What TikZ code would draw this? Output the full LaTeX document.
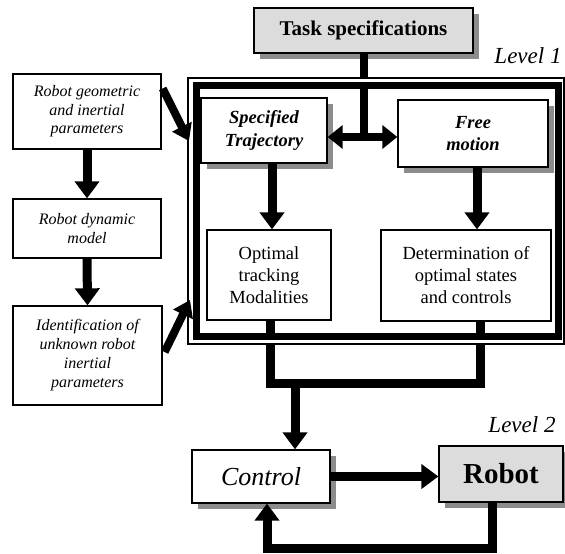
\documentclass[tikz,border=0pt]{standalone}
\usepackage{fontspec}
\setmainfont{Liberation Serif}
\usetikzlibrary{arrows.meta,shadows,calc}
\definecolor{boxgray}{HTML}{DCDCDC}
\definecolor{shadowgray}{HTML}{8C8C8C}
\begin{document}
\begin{tikzpicture}[x=1pt,y=-1pt,
  box/.style={draw=black,line width=1.3pt,fill=white,align=center,inner sep=0pt},
  shad/.style={drop shadow={shadow xshift=6pt,shadow yshift=-6pt,fill=shadowgray,opacity=1}},
  conn/.style={line width=9pt,draw=black},
  arr/.style={conn,-{Triangle[width=24pt,length=17pt]}},
  darr/.style={line width=8pt,draw=black,{Triangle[width=23pt,length=15pt]}-{Triangle[width=23pt,length=15pt]}},
  diag/.style={line width=8pt,draw=black,-{Triangle[width=21pt,length=16pt]}},
  lefttxt/.style={font=\fontsize{16}{18.5}\selectfont\itshape},
  midtxt/.style={font=\fontsize{18.5}{22}\selectfont},
  bitxt/.style={font=\fontsize{18.5}{22.5}\selectfont\bfseries\itshape},
  lvl/.style={font=\fontsize{23}{26}\selectfont\itshape}]
\useasboundingbox (0,0) rectangle (565,554);

% nodes defining geometry
\node[box,shad,fill=boxgray,minimum width=219pt,minimum height=45pt,font=\fontsize{21}{25}\selectfont\bfseries] (task) at (363.5,30.5) {Task specifications};

% connectors crossing the frame (drawn first)
\coordinate (st) at (364,137);
\draw[conn,line width=8pt] (task.south -| st) -- (st);

\node[box,minimum width=124pt,minimum height=90pt,draw=none,fill=none] (opt0) at (269,275) {};
\node[box,minimum width=170pt,minimum height=91pt,draw=none,fill=none] (det0) at (466,275.5) {};
\coordinate (m) at (295,383);
\draw[conn,line join=miter] ([xshift=1pt]opt0.south) -- ++(0,63) -| ([xshift=14pt]det0.south);

% double frame
\draw[black,line width=1.3pt] (188,78) rectangle (564,344);
\draw[white,line width=3pt] (190.8,80.8) rectangle (561.2,341.2);
\draw[black,line width=7pt] (196,85.5) rectangle (558.5,336.5);

% boxes
\node[box,shad,minimum width=126pt,minimum height=65pt,bitxt] (spec) at (264,130.5) {Specified\\Trajectory};
\node[box,shad,minimum width=150pt,minimum height=67pt,bitxt] (free) at (473,133.5) {Free\\motion};
\node[box,minimum width=124pt,minimum height=90pt,midtxt] (opt) at (269,275) {Optimal\\tracking\\Modalities};
\node[box,minimum width=170pt,minimum height=91pt,midtxt] (det) at (466,275.5) {Determination of\\optimal states\\and controls};

\node[box,minimum width=148pt,minimum height=75pt,lefttxt] (geo) at (87,111.5) {Robot geometric\\and inertial\\parameters};
\node[box,minimum width=148pt,minimum height=59pt,lefttxt] (dyn) at (87,228.5) {Robot dynamic\\model};
\node[box,minimum width=149pt,minimum height=99pt,lefttxt,font=\fontsize{16}{19}\selectfont\itshape] (ident) at (87.5,355.5) {Identification of\\unknown robot\\inertial\\parameters};

\node[box,shad,minimum width=138pt,minimum height=53pt,font=\fontsize{26}{30}\selectfont\itshape] (ctrl) at (261,476.5) {Control};
\node[box,shad,fill=boxgray,minimum width=124pt,minimum height=56pt,font=\fontsize{29}{33}\selectfont\bfseries] (robot) at (501,474) {Robot};

\node[lvl] (l1) at (528,56) {Level 1};
\node[lvl] (l2) at (522,425) {Level 2};

% arrows
\draw[darr] (spec.east |- st) -- (free.west |- st);
\draw[arr] ([xshift=8pt]spec.south) -- ([xshift=8pt]spec.south |- opt.north);
\draw[arr] ([xshift=4pt]free.south) -- ([xshift=4pt]free.south |- det.north);
\draw[arr] (geo.south) -- (dyn.north);
\draw[arr] (dyn.south) -- (ident.north);

\coordinate (f1) at (189,141);
\coordinate (f2) at (190,300);
\draw[diag] ([yshift=23pt,xshift=1pt]geo.east) -- (f1);
\draw[diag] ([yshift=3.5pt,xshift=2pt]ident.east) -- (f2);

\draw[arr] (m) -- (m |- ctrl.north);
\draw[arr] (ctrl.east) -- (ctrl.east -| robot.west);
\draw[arr,line join=miter] ([xshift=-9pt]robot.south) -- ++(0,46) -| ([xshift=6pt]ctrl.south);
\end{tikzpicture}
\end{document}
